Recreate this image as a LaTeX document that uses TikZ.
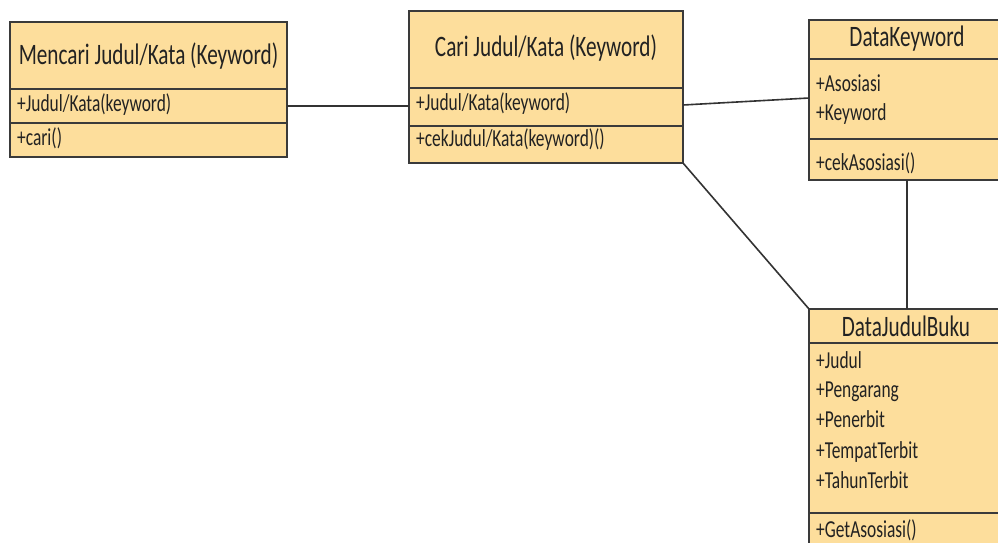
\documentclass[tikz,border=0pt]{standalone}
\usepackage{fontspec}
\usepackage{graphicx}
\setmainfont{Carlito}
\newcommand{\tallt}[1]{\scalebox{1}[1.4]{#1}}
\begin{document}
\begin{tikzpicture}[x=1pt,y=-1pt,
  box/.style={draw=boxline,line width=1.4pt,fill=boxfill,anchor=north west,inner sep=0pt,outer sep=0pt},
  sep/.style={draw=boxline,line width=1.4pt},
  ttl/.style={font=\fontsize{21.2}{24}\selectfont,text=txt,inner sep=0pt,anchor=base},
  attr/.style={font=\fontsize{17.4}{20}\selectfont,text=txt,inner sep=0pt,anchor=base west},
  conn/.style={draw=connline,line width=1.6pt}]
\definecolor{boxfill}{HTML}{FDDE9C}
\definecolor{boxline}{HTML}{3A3A3A}
\definecolor{connline}{HTML}{333333}
\definecolor{txt}{HTML}{222222}
\useasboundingbox (0,0) rectangle (998,542);
\clip (0,0) rectangle (998,542);
% class 1
\node[box,minimum width=277pt,minimum height=135pt] (c1) at (10,22) {};
\draw[sep] (10,89) -- (287,89);
\draw[sep] (10,123) -- (287,123);
\node[ttl] (c1t) at (148.5,64.3) {\tallt{Mencari Judul/Kata (Keyword)}};
\node[attr] (c1a) at (17,111.3) {\tallt{+Judul/Kata(keyword)}};
\node[attr] (c1m) at (17,145) {\tallt{+cari()}};
% class 2
\node[box,minimum width=274pt,minimum height=152pt] (c2) at (409,11) {};
\draw[sep] (409,88) -- (683,88);
\draw[sep] (409,126) -- (683,126);
\node[ttl] (c2t) at (546,56.7) {\tallt{Cari Judul/Kata (Keyword)}};
\node[attr] (c2a) at (416,110) {\tallt{+Judul/Kata(keyword)}};
\node[attr] (c2m) at (416,146.7) {\tallt{+cekJudul/Kata(keyword)()}};
% class 3
\node[box,minimum width=196pt,minimum height=160pt] (c3) at (809,20) {};
\draw[sep] (809,59) -- (1005,59);
\draw[sep] (809,139) -- (1005,139);
\node[ttl] (c3t) at (907,46.7) {\tallt{DataKeyword}};
\node[attr] (c3a) at (816,91) {\tallt{+Asosiasi}};
\node[attr] (c3b) at (816,120) {\tallt{+Keyword}};
\node[attr] (c3m) at (816,170) {\tallt{+cekAsosiasi()}};
% class 4
\node[box,minimum width=194pt,minimum height=251pt] (c4) at (809,309) {};
\draw[sep] (809,343) -- (1003,343);
\draw[sep] (809,513) -- (1003,513);
\node[ttl] (c4t) at (906,336) {\tallt{DataJudulBuku}};
\node[attr] (c4a) at (816,368) {\tallt{+Judul}};
\node[attr] (c4b) at (816,397) {\tallt{+Pengarang}};
\node[attr] (c4c) at (816,427) {\tallt{+Penerbit}};
\node[attr] (c4d) at (816,458) {\tallt{+TempatTerbit}};
\node[attr] (c4e) at (816,488) {\tallt{+TahunTerbit}};
\node[attr] (c4m) at (816,537) {\tallt{+GetAsosiasi()}};
% connectors
\coordinate (p1) at (287,106);
\coordinate (p2) at (409,106);
\coordinate (p3) at (683,105);
\coordinate (p4) at (809,98);
\coordinate (p5) at (907,180);
\coordinate (p6) at (907,309);
\draw[conn] (p1) -- (p2);
\draw[conn] (p3) -- (p4);
\draw[conn] (c2.south east) -- (c4.north west);
\draw[conn] (p5) -- (p6);
\end{tikzpicture}
\end{document}
